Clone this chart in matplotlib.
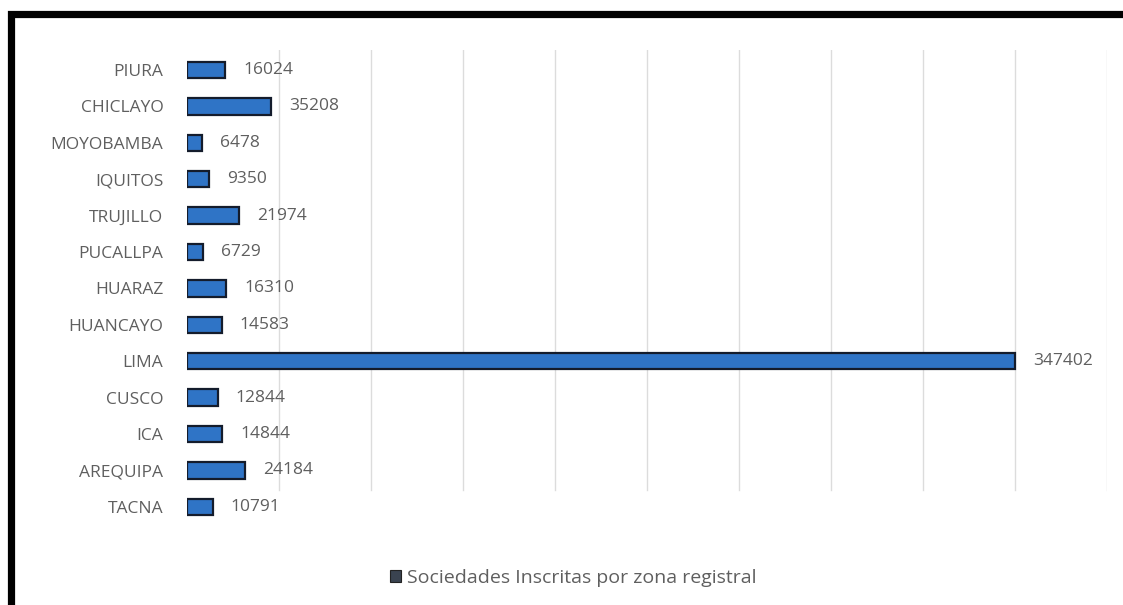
import numpy as np
import matplotlib.pyplot as plt
from matplotlib.patches import Rectangle, Patch

# sociedades inscritas por zona registral
zonas = ["PIURA", "CHICLAYO", "MOYOBAMBA", "IQUITOS", "TRUJILLO", "PUCALLPA",
         "HUARAZ", "HUANCAYO", "LIMA", "CUSCO", "ICA", "AREQUIPA", "TACNA"]
sociedades = [16024, 35208, 6478, 9350, 21974, 6729,
              16310, 14583, 347402, 12844, 14844, 24184, 10791]
serie = "Sociedades Inscritas por zona registral"

plt.rcParams['font.family'] = ['Open Sans', 'DejaVu Sans']
gris = "#5f5f5f"

fig = plt.figure(figsize=(11.23, 6.05), dpi=100)
ax = fig.add_axes([187/1123, 1 - 525/605, 920/1123, 475/605])

y = np.arange(len(zonas))
bars = ax.barh(y, sociedades, height=0.45, color="#2f74c6",
               edgecolor="#141c2c", linewidth=1.6, zorder=3)

xmax = 386000
ax.set_xlim(0, xmax)
ax.set_ylim(12.5, -0.55)

# gridlines, stopping a little above the bottom of the axes
for gx in np.linspace(0, xmax, 11)[1:]:
    ax.axvline(gx, ymin=0.074, ymax=1, color="#dcdcdc", linewidth=1, zorder=1)

for b, v in zip(bars, sociedades):
    ax.annotate(str(v), (b.get_width(), b.get_y() + b.get_height() / 2),
                xytext=(13, 0), textcoords="offset points",
                va="center", ha="left", fontsize=12.5, color=gris)

ax.set_yticks(y)
ax.set_yticklabels(zonas, fontsize=12.5, color=gris)
ax.tick_params(axis="y", length=0, pad=17)
ax.set_xticks([])
for s in ax.spines.values():
    s.set_visible(False)

handle = Patch(facecolor="#3a4350", edgecolor="#222222", linewidth=0.8)
fig.legend([handle], [serie], loc="center left", bbox_to_anchor=(372/1123, 1 - 578/605),
           frameon=False, fontsize=14, labelcolor=gris,
           handlelength=0.6, handleheight=0.6, handletextpad=0.3)

# thick black frame on top and left
top = 1 - 14/605
fig.add_artist(Rectangle((11.5/1123, -0.2), 1.5, top + 0.2,
                         transform=fig.transFigure, fill=False,
                         edgecolor="black", linewidth=5.2, clip_on=False))

fig.savefig("out.png", dpi=100, facecolor="white")
